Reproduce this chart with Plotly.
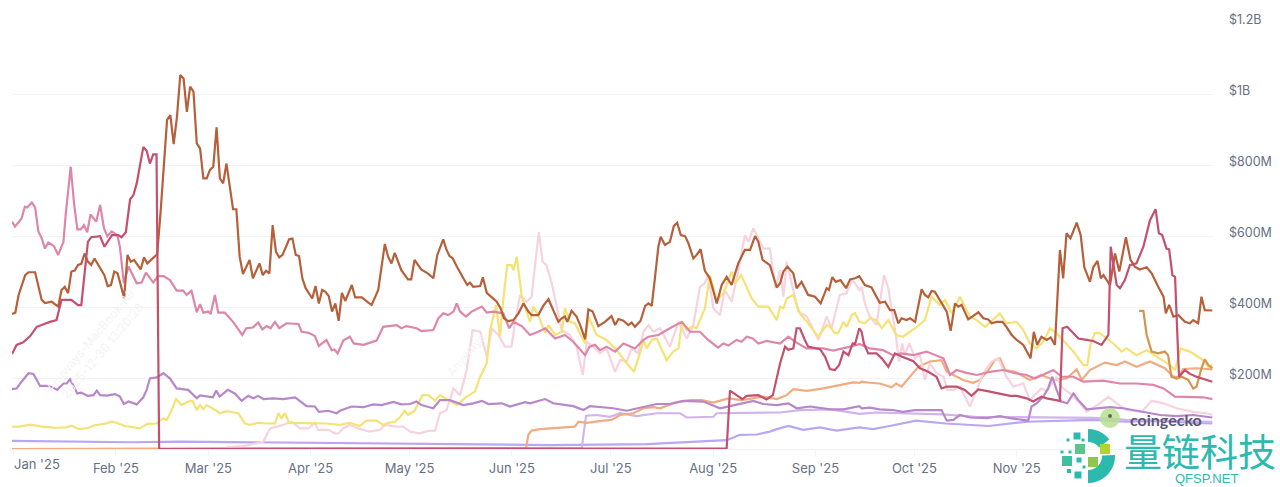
from datetime import datetime, timedelta
import numpy as np
import plotly.graph_objects as go

# Daily trading volume by token, USD millions; each series pairs days since the start with values.
START = datetime(2024, 12, 31, 12)
MONTH_TICKS = ["2025-01-01", "2025-02-01", "2025-03-01", "2025-04-01", "2025-05-01", "2025-06-01",
               "2025-07-01", "2025-08-01", "2025-09-01", "2025-10-01", "2025-11-01", "2025-12-01"]
MONTH_LABELS = ["", "Feb '25", "Mar '25", "Apr '25", "May '25", "Jun '25",
                "Jul '25", "Aug '25", "Sep '25", "Oct '25", "Nov '25", ""]
VALUE_TICKS = [0, 200, 400, 600, 800, 1000, 1200]
VALUE_LABELS = ["", "$200M", "$400M", "$600M", "$800M", "$1B", "$1.2B"]

brown_days = [0,1,2,4,5,7,9,10,12,14,15,16,17,18,19,20,21,22,23,24,25,27,28,29,30,31,32,34,35,36,37,39,40,41,44,45,46,47,48,49,50,51,52,53,54,55,56,57,58,59,60,61,62,63,64,65,67,68,69,70,72,73,75,76,77,78,79,80,81,82,84,85,86,87,88,89,91,92,93,94,95,96,97,98,99,100,101,103,104,106,108,109,111,113,114,115,116,118,120,121,122,124,126,
              127.7,128.9,130.7,131.7,132.6,133.6,134.8,136.8,138,138.8,139.8,141.9,142.7,143.9,144.9,146.9,148.1,149.1,150.4,152,153.5,155,156.5,157.5,159.5,161,162.6,164,165.6,166.6,167.6,168.3,169.6,171.1,172.2,173.7,174.7,176,177.7,179.7,181.7,182.8,183.8,185.3,186.8,187.8,188.8,190.5,191.9,192.9,193.9,194.9,195.9,196.6,197.9,199.4,200.6,201.6,202.7,204,205,206.5,207.5,208.7,210,211.5,213.6,215.1,216.6,218.1,220.1,222.1,223.7,225.2,226.2,227.5,229.7,231.8,232.8,233.8,235,236.8,237.8,239.3,241.3,243.4,245.1,246.9,247.6,248.6,249.7,251.1,252.8,254,255.5,256.8,
              258.5,260.5,262,263,264.6,266.1,267.4,268.6,269.6,271.1,272.2,273.7,275.7,276.7,277.7,278.7,279.7,281.7,283.3,284.5,285.8,286.8,287.8,289.8,291.3,292.9,294.4,295.9,296.9,298.4,300.2,301.4,303,304.5,306.5,308.7,309.7,310.7,312,313.6,314.8,316.1,316.6,317.6,318.6,319.6,320.8,322.7,323.9,325,326.7,327.7,329,330,330.8,332.8,334.3,335.6,337.6,339,340.3,341.8,343.9,345.4,347.4,349,349.7,350.7,352,353.5,355.5,357,358,359.5,360.5,361.5,363.8]
brown_values = [381,385,435,491,499,499,421,412,416,402,449,458,440,501,504,520,523,552,529,520,538,505,491,460,463,501,496,426,548,529,534,507,541,524,550,665,797,929,943,861,938,1056,1046,952,1023,1009,863,849,764,764,788,797,908,764,750,806,677,677,543,494,534,482,524,491,503,496,632,557,541,548,592,594,548,545,482,454,425,460,411,449,444,432,388,411,362,441,418,463,428,428,413,407,449,579,543,524,554,505,479,479,534,507,496,
                482,548,592,562,545,538,515,482,463,470,458,460,485,441,432,416,397,369,361,364,383,411,388,378,378,404,423,392,359,369,374,359,390,374,350,310,394,388,347,359,375,350,367,362,350,357,345,362,404,411,404,486,571,599,576,585,630,639,604,601,581,538,548,564,503,482,411,463,486,463,524,562,562,601,585,534,519,456,468,501,515,496,454,472,435,430,411,454,449,485,472,477,454,479,482,488,
                463,456,430,413,416,392,392,355,369,364,369,359,451,435,428,446,444,411,388,334,411,402,407,366,375,386,369,366,355,359,359,345,322,308,294,256,331,294,317,308,315,294,383,562,482,609,595,639,604,513,472,513,531,482,491,463,552,501,598,534,515,507,513,496,458,430,383,407,374,378,359,355,364,355,430,392,391]

rose_days = [0,1.4,3.4,5.5,7.5,9.5,11.5,13.5,15,18,20,21,23,24,26.7,28,30.3,32.2,33.2,34.5,35.8,36.8,37.8,39.8,40.8,41.8,42.8,43.8,44.6,216.6,
             217.6,219.6,221.4,222.7,226.2,228.7,230.6,232.8,234.3,235.3,236.8,237.8,238.8,240.3,241.3,244.9,246.4,247.9,249.4,250.7,252,253.5,254.8,255.5,256.8,
             257.5,258.2,259.5,262,263.6,265.6,267.6,269.6,273.2,275.2,277.7,280.2,281.7,283.3,286.3,288.8,290.8,292.9,296.4,299.4,302.5,304.5,307.5,309.5,312,313.6,317.6,318.4,319.8,321.7,323.2,325.7,327.7,330.2,332.3,333,334.8,335.8,337.3,338.8,340.8,342.9,344.9,346.6,347.6,348.6,349.9,350.7,351.7,352.5,353.7,355.5,357,359,362,363.8]
rose_values = [268,294,301,319,345,353,359,364,421,421,406,406,585,598,601,571,604,604,598,612,705,717,750,853,842,806,832,832,0,2,
               165,152,141,150,152,140,152,242,289,280,284,341,341,308,289,282,261,226,223,237,275,265,298,296,341,
               331,298,270,270,256,232,270,261,248,228,218,204,171,176,176,167,150,168,162,157,150,150,143,134,148,143,136,341,345,327,312,308,305,294,322,571,463,454,477,519,524,571,646,677,609,604,566,564,491,486,204,223,212,204,195,190]

pink_days = [0,.9,2.9,3.9,4.6,6,7,8,9,10,11,12.7,14,15.6,16.3,17.8,18.8,19.8,20.8,21.8,22.8,23.8,25.5,26.7,27.9,28.9,30.2,31.9,32.7,33.9,35.3,36.3,37.8,39.3,40.6,42.8,44.3,45.9,47.9,49.9,51.9,52.9,54.4,56,57,58,59.5,60.2,61.5,62.5,64.5,67,69.8,71,73,74.6,75.9,77.2,78.4,79.7,81,83.2,86.8,87.8,89.9,91.8,93,95.3,96.9,97.7,98.7,100.4,102.4,103.6,106.5,110.5,112.5,116.6,118,119.6,122.6,124.1,126.2,
             127.7,129.2,130.7,132.2,133.8,134.8,135.8,137.6,139.3,142.4,143.9,145.9,148.9,150.7,152,154.5,157,159.5,161.6,164.6,167.6,170.1,173.7,175,176.7,178.2,180.2,182.8,185.3,188.8,191.4,192.9,195.9,199.4,203,205.5,208.5,211,214,215.6,217.1,219.6,221.1,222.7,224.5,226.2,228.7,232.8,235.3,237.3,240.8,245.9,248.9,254,256.8,
             257.5,260,264,267,269.6,273.2,277.2,279.7,282.3,284.3,286.3,289.3,292.4,296.4,300.4,304,307.5,310,313.6,315.6,318.1,321.7,324.7,330.7,335.8,340.8,345.9,349,352.5,356,361,363.8]
pink_values = [642,628,651,684,682,696,682,614,595,566,583,573,548,585,665,797,694,620,620,632,612,662,642,689,623,601,614,604,571,468,515,496,468,470,498,470,488,488,477,447,447,435,447,386,409,385,388,381,435,385,385,359,322,341,343,357,338,347,341,359,341,355,353,331,328,319,291,308,279,281,270,306,317,298,294,306,345,350,341,347,341,333,336,
               336,369,383,378,388,411,388,374,388,402,385,388,383,341,359,347,322,331,341,312,322,303,265,289,294,279,289,275,298,284,308,317,322,341,359,331,331,308,286,298,292,308,303,317,312,298,305,298,317,303,284,284,278,289,296,
               294,284,279,265,270,265,275,265,256,209,223,215,209,218,223,214,209,199,214,223,204,204,190,193,185,185,181,171,148,148,146,141]

purple_days = [0,1.4,2.9,5,6.5,8.5,10.5,12,13.7,15.6,16.6,17.6,19.8,21,23,24.7,25.7,26.7,28.7,31.2,32.7,33.9,35.3,37.8,39.8,40.8,41.8,43.8,45.9,47.9,49.9,53.4,56,57,60.9,61.9,62.9,65.4,67.5,69.6,71.6,73.1,74.6,76.2,79.2,82.2,85.8,89.3,91.8,93,95.9,98.4,99.4,102.9,106.5,109.5,112,115.6,118,120.6,122.6,124.1,126.5,
               127.7,129.7,132.7,136.8,139.8,142.4,144.4,148.4,150.9,155.5,157,161.6,164,170.1,173.2,175.2,179.2,182.2,186.3,191.4,195.4,199.4,203.5,209.5,214.6,217.6,221.1,224.7,227.7,231.8,235.3,237.8,241.9,248,252,256.8,
               257.5,260,263,267,270,273.7,277.2,281.7,283.3,285.3,287.3,290.3,295.4,299.4,302.5,308,309,310.5,312.6,314,315.3,316.6,318,319.8,321.7,323.2,325.7,329.7,332.8,336.8,342.9,348,353,358,363.8]
purple_values = [169,171,190,214,212,178,178,176,167,185,185,197,157,159,150,152,165,152,151,155,148,127,134,126,146,167,199,202,214,199,171,167,143,151,146,165,148,167,157,136,150,143,150,141,143,141,146,121,120,105,108,101,108,120,118,126,124,133,126,127,134,124,118,
                 115,138,138,124,129,136,127,129,120,132,129,141,129,121,110,121,118,115,108,118,127,127,136,134,115,121,129,136,127,124,129,115,120,112,112,121,
                 115,117,112,110,105,110,110,110,80,82,96,89,87,93,87,80,120,129,148,171,204,167,134,129,157,138,112,115,118,115,105,96,93,96,89]

yellow_days = [0,2.4,5.5,9,13,16.5,18,20,22.6,25,28,30.2,31.7,34.2,38.8,41,43.8,45.9,46.9,48.4,49.7,51.4,53.4,54.7,56,57,58,59,62,63,65,68.6,70.6,72,74.6,77,79.7,80.7,81.7,82.7,84,89.3,95.3,99.4,102.4,105.4,107.4,110.5,112.5,114,116,117.5,119,120,122,124.4,126.2,
               128.2,129.7,132.7,134.8,137.8,140.3,141.9,143.9,144.9,145.9,146.7,147.9,148.9,150.1,151.4,152,153,154.5,155.5,157,158,159.5,161.6,162.6,164.6,166.6,167.6,169.1,170.6,173.7,174.7,177.2,180.2,183.3,186.3,188.5,190.3,191.4,192.4,193.9,195.4,198.4,200.4,202,203,204.5,206,207.5,210,211.5,213.6,215.6,218.1,219.1,221,224.2,226.2,229.2,231.8,232.8,233.8,234.8,236.8,238.8,240.9,244.4,246.9,247.9,249.4,250.4,252,253,254.5,255.5,256.8,
               258.5,260,262,263.6,265.6,268,270,273.7,276.7,278.7,281.2,282.8,284.8,287.3,290.3,292.4,294.9,299.4,301.4,304.5,306.5,308.5,310.5,312.6,314.6,316.6,319.6,321.7,324.7,325.9,326.9,328.2,329.7,333.8,336.3,337.8,340.8,343.9,346.9,351,352.5,354.2,357,361,362.6,363.8]
yellow_values = [63,63,69,63,60,61,66,57,58,67,71,77,74,65,58,71,72,87,82,110,141,124,134,136,110,124,112,124,108,101,107,101,72,68,74,72,72,101,87,101,74,74,72,68,74,65,80,80,68,74,77,89,108,96,108,152,152,
                 136,152,136,124,148,162,204,242,336,374,406,317,421,519,519,505,543,430,402,359,402,378,327,350,322,331,397,359,355,298,374,322,308,279,242,218,270,308,284,308,312,251,275,284,355,336,345,341,397,491,421,439,501,468,491,425,402,402,364,402,397,425,435,383,359,317,350,345,327,327,359,345,378,383,359,
                 355,369,364,341,364,322,317,341,364,430,407,421,383,430,374,364,345,383,355,359,336,298,284,303,341,327,298,275,237,237,298,327,327,298,275,284,265,279,261,237,223,284,275,251,232,237]

blush_days = [65,70,74.1,76.2,78.2,82.2,84.7,87.3,89.8,91.8,92.8,95.9,97.9,98.9,100.4,102.4,105,108.3,111.5,113,116.6,118.6,120.6,123.6,126.2,
              128.2,129.7,131.7,133.8,135.8,137.8,139.6,141.9,143.9,145.4,147.4,149.4,151.4,152.4,154,156,157.5,158.8,159.7,160.8,162,163.6,165.1,166.6,169.1,171.1,173,174.2,176.2,178.2,180.2,182.8,184.3,186.3,187.8,189.8,191.4,192.9,194.4,196.4,199.4,202,204.5,206.5,208.5,210,211,212.6,214.6,216,218.1,220.1,222.1,223.2,224.7,226.2,227.7,229.7,231.4,232.8,233.8,234.8,236.8,238.3,240.9,244.4,246.9,248.4,250.9,252.9,254.5,255.5,256.8,
              257.5,258.5,260,262,264.3,265.6,266.8,267.8,268.8,269.8,270.6,272,273.7,275.2,276.7,278.2,280.2,282.3,283.5,285.3,287.3,288.8,290.3,292.4,294.4,296.9,298.9,301.4,303.5,306.5,308.5,310.5,312,313.6,316.6,318,320.6,323.7,325.7,329.7,332.3,334.8,337.8,342.4,345.4,349,353,358,362,363.8]
blush_values = [5,8,16,21,58,68,77,58,58,74,54,54,44,44,58,68,58,49,54,68,63,63,49,44,51,
                52,101,110,171,152,223,336,331,261,341,322,289,289,355,435,416,430,543,612,529,519,468,402,336,322,289,209,303,289,270,284,218,251,247,284,270,331,350,331,341,289,359,312,350,458,468,491,397,378,449,416,501,604,585,623,595,566,566,454,505,430,529,449,388,374,308,374,341,435,439,477,468,449,
                458,411,374,350,491,454,383,327,247,298,265,298,256,265,195,242,214,204,167,167,176,148,120,167,214,247,256,204,176,185,138,157,171,162,204,176,157,129,105,129,148,129,110,105,136,129,115,105,101,96]

orange_days = [0,155.8,156.5,157.5,160,165,170.6,171.7,174.2,179.2,181.7,184.3,188.3,191.4,194.4,196.4,200.9,205.5,209,212.6,217.1,221.1,227.7,231.8,234.8,236.8,240.9,245.9,249.9,255,256.8,
               257.5,260,263,266.6,268,269.6,272.2,274.7,278.2,281.7,283.3,285.3,288.3,291.3,293.4,295.9,297.9,299.4,301,304,308.5,312,315.6,319.6,322.7,324.2,326.7,331.2,334.8,337.3,340.8,344.9,349.4,352,353.5,355,359,363.8]
orange_values = [0,2,40,52,56,60,63,77,74,80,82,96,101,115,118,115,131,138,138,131,143,138,148,141,152,169,164,171,179,188,187,
                 190,187,185,174,185,176,204,232,247,251,218,209,195,187,195,223,251,256,223,218,195,209,195,199,225,195,223,244,237,247,232,247,228,204,204,226,228,225]

lilac_days = [0,172.7,173.2,174,177.2,181.2,184.3,189.3,195.4,202.5,204.5,212.6,213.6,223.7,232.8,238.8,248,253,256.8,262,273,282,292,307.5,317.6,327.7,337.8,348,358,363.8]
lilac_values = [0,2,40,94,96,91,101,93,101,101,89,91,101,101,103,110,112,105,99,103,101,98,91,89,89,88,82,80,79,77]

violet_days = [0,16,36,51,77,92,126,163,192.4,207.5,216.6,220.6,225.7,229.7,231.8,235.3,239.8,244.9,249.9,256.8,261,266,274,283,296,307.5,317.6,327.7,337.8,348,358,363.8]
violet_values = [23,21,19,21,19,16,14,11,14,21,25,40,41,49,56,65,54,61,52,61,56,65,80,72,65,77,80,82,77,79,74,72]

ochre_days = [341.6,342.9,343.9,345.4,347.4,349.4,350.4,351.4,353,354.5,356.5,358,359,360.5,361.5,362.6,363.8]
ochre_values = [390,390,322,275,270,275,265,204,199,204,195,171,176,228,253,237,228]

SERIES = [
    ("BLUE", violet_days, violet_values, "#B9A6F4"),
    ("LILAC", lilac_days, lilac_values, "#CFB4EE"),
    ("ORANGE", orange_days, orange_values, "#F2AB80"),
    ("BLUSH", blush_days, blush_values, "#F6D3DF"),
    ("YELLOW", yellow_days, yellow_values, "#F5E274"),
    ("PURPLE", purple_days, purple_values, "#B887C9"),
    ("PINK", pink_days, pink_values, "#DE86A9"),
    ("OCHRE", ochre_days, ochre_values, "#D49550"),
    ("BROWN", brown_days, brown_values, "#B5603A"),
    ("ROSE", rose_days, rose_values, "#C4506F"),
]

WIDTH, HEIGHT = 1280, 487
LEFT, RIGHT, TOP, BOTTOM = 12, 1213, 24, 449


def px(x):
    return (x - LEFT) / (RIGHT - LEFT)


def py(y):
    return (BOTTOM - y) / (BOTTOM - TOP)


def ring_path(cx, cy, outer, inner, start, stop):
    """Annular sector as a paper-space SVG path (angles in degrees)."""
    angles = np.radians(np.linspace(start, stop, 40))
    outer_pts = [(px(cx + outer * np.cos(a)), py(cy - outer * np.sin(a))) for a in angles]
    inner_pts = [(px(cx + inner * np.cos(a)), py(cy - inner * np.sin(a))) for a in angles[::-1]]
    pts = outer_pts + inner_pts
    return "M" + " L".join(f"{x:.5f},{y:.5f}" for x, y in pts) + " Z"


def square(x, y, size, color):
    return dict(type="rect", xref="paper", yref="paper", x0=px(x - size / 2), x1=px(x + size / 2),
                y0=py(y + size / 2), y1=py(y - size / 2), fillcolor=color, line_width=0)


fig = go.Figure()
for name, days, values, color in SERIES:
    fig.add_trace(go.Scatter(
        x=[START + timedelta(days=float(d)) for d in days], y=values, name=name, mode="lines",
        line=dict(color=color, width=2.2, shape="linear"), cliponaxis=False, showlegend=False,
    ))

TEAL = "#2DB9AE"
shapes = [
    dict(type="path", xref="paper", yref="paper", path=ring_path(1088, 456, 27, 14, 90, 38), fillcolor=TEAL, line_width=0),
    dict(type="path", xref="paper", yref="paper", path=ring_path(1088, 456, 27, 14, 2, -90), fillcolor=TEAL, line_width=0),
    square(1077, 436, 7, "#2DB9AE"), square(1083, 440, 3, "#2DB9AE"), square(1068, 440, 3, "#2DB9AE"),
    square(1080, 449, 10, "#5FC48C"), square(1105, 449, 10, "#B2D236"), square(1093, 462, 10, "#8CC850"),
    square(1067, 461, 10, "#3CC0A0"), square(1079, 460, 5, "#2DB9AE"), square(1062, 452, 3, "#2DB9AE"),
    square(1070, 452, 3, "#2DB9AE"), square(1069, 471, 4, "#2DB9AE"), square(1078, 475, 7, "#2DB9AE"),
    square(1084, 467, 3, "#2DB9AE"),
    dict(type="circle", xref="paper", yref="paper", x0=px(1100), x1=px(1120), y0=py(428), y1=py(408),
         fillcolor="#B9DE8F", opacity=0.85, line_width=0),
    dict(type="circle", xref="paper", yref="paper", x0=px(1108), x1=px(1112), y0=py(418), y1=py(414),
         fillcolor="#5F6B5A", line_width=0),
]


def label(text, x, y, size, color, anchor="center", family="Inter", weight=None, angle=0):
    return dict(text=text, xref="paper", yref="paper", x=px(x), y=py(y), xanchor=anchor, yanchor="middle",
                showarrow=False, textangle=angle, font=dict(size=size, color=color, family=family, weight=weight))


annotations = [
    label("Jan '25", 12, 464, 13, "#677084", anchor="left"),
    label("coingecko", 1166, 419, 16, "#5B5770", family="Lato", weight=700),
    label("量链科技", 1200, 449, 38, TEAL, family="Noto Sans CJK SC"),
    label("QFSP.NET", 1206, 478, 13, TEAL, family="Liberation Sans"),
    label("Anyways-MacBook-Air", 90, 340, 12, "#F4F4F6", angle=-50),
    label("2025-12-30 13:20:28", 102, 350, 12, "#F4F4F6", angle=-50),
    label("Anyways", 465, 355, 12, "#F4F4F6", angle=-50),
]

fig.update_layout(
    width=WIDTH, height=HEIGHT, autosize=False, paper_bgcolor="white", plot_bgcolor="white",
    margin=dict(l=LEFT, r=WIDTH - RIGHT, t=TOP, b=HEIGHT - BOTTOM, autoexpand=False),
    shapes=shapes, annotations=annotations, showlegend=False,
    xaxis=dict(
        type="date", range=[START, START + timedelta(days=364)], tickmode="array", tickvals=MONTH_TICKS,
        ticktext=MONTH_LABELS, showgrid=False, zeroline=False, showline=True, linecolor="#F1F1F3", linewidth=1,
        ticks="outside", ticklen=7, tickcolor="#F4F4F6", tickangle=0, automargin=False,
        tickfont=dict(family="Inter", size=13, color="#677084"),
    ),
    yaxis=dict(
        side="right", range=[0, 1200], tickmode="array", tickvals=VALUE_TICKS, ticktext=VALUE_LABELS,
        showgrid=True, gridcolor="#F3F3F5", gridwidth=1, zeroline=False, ticks="", automargin=False,
        ticklabelstandoff=15, ticklabelshift=-4,
        tickfont=dict(family="Inter", size=12.5, color="#677084"),
    ),
)

fig.write_html("out.html")
